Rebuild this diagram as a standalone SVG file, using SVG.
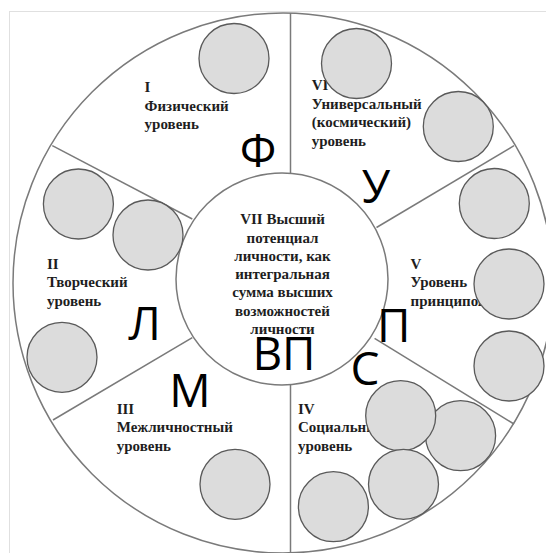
<svg xmlns="http://www.w3.org/2000/svg" width="546" height="553" viewBox="0 0 546 553">
  <style>
    .ring { fill: #ffffff; stroke: #7a7a7a; stroke-width: 1.5; }
    .div { stroke: #7a7a7a; stroke-width: 1.5; fill: none; }
    .ball { fill: #dcdcdc; stroke: #5a5a5a; stroke-width: 1.3; }
    .lbl { font-family: "Liberation Serif", "Times New Roman", serif; font-weight: bold; font-size: 15px; fill: #1e1e1e; }
    .mid { text-anchor: middle; }
    .big { font-family: "Open Sans", "Liberation Sans", sans-serif; font-size: 46px; fill: #000000; text-anchor: middle; }
  </style>
  <rect x="0" y="0" width="546" height="553" fill="#ffffff"/>
  <rect x="9.5" y="11.5" width="600" height="600" fill="none" stroke="#e0e0e0" stroke-width="1"/>

  <g id="outer-ring">
    <circle class="ring" cx="283" cy="283" r="270"/>
  </g>

  <g id="connectors">
    <line class="div" x1="290.5" y1="13" x2="290.5" y2="173.5"/>
    <line class="div" x1="290.5" y1="385" x2="290.5" y2="553"/>
    <line class="div" x1="52.3" y1="145.7" x2="192.3" y2="219"/>
    <line class="div" x1="514" y1="145.7" x2="376.5" y2="227.5"/>
    <line class="div" x1="53" y1="420" x2="192.3" y2="337.7"/>
    <line class="div" x1="374.6" y1="338.3" x2="514" y2="424"/>
  </g>

  <g id="core">
    <circle class="ring" cx="282" cy="279" r="106"/>
    <text class="lbl mid" x="282.5" y="224.3">VII Высший</text>
    <text class="lbl mid" x="282.5" y="242.5">потенциал</text>
    <text class="lbl mid" x="282.5" y="260.8">личности, как</text>
    <text class="lbl mid" x="282.5" y="279">интегральная</text>
    <text class="lbl mid" x="282.5" y="297.3">сумма высших</text>
    <text class="lbl mid" x="282.5" y="315.5">возможностей</text>
    <text class="lbl mid" x="282.5" y="333.8">личности</text>
  </g>

  <g id="level-I">
    <text class="lbl" x="144.6" y="92">I</text>
    <text class="lbl" x="144.6" y="110.5">Физический</text>
    <text class="lbl" x="144.6" y="129">уровень</text>
    <circle class="ball" cx="234" cy="58.5" r="35"/>
  </g>

  <g id="level-VI">
    <text class="lbl" x="311.7" y="90">VI</text>
    <text class="lbl" x="311.7" y="108.5">Универсальный</text>
    <text class="lbl" x="311.7" y="127">(космический)</text>
    <text class="lbl" x="311.7" y="145.5">уровень</text>
    <circle class="ball" cx="356.5" cy="63.5" r="35"/>
    <circle class="ball" cx="458.3" cy="126.5" r="35"/>
  </g>

  <g id="level-V">
    <text class="lbl" x="410.5" y="268.5">V</text>
    <text class="lbl" x="410.5" y="287">Уровень</text>
    <text class="lbl" x="410.5" y="305.5">принципов</text>
    <circle class="ball" cx="494.3" cy="203.5" r="35"/>
    <circle class="ball" cx="509" cy="284" r="35"/>
    <circle class="ball" cx="509" cy="366" r="35"/>
  </g>

  <g id="level-IV">
    <text class="lbl" x="298" y="413.5">IV</text>
    <text class="lbl" x="298" y="432">Социальный</text>
    <text class="lbl" x="298" y="450.5">уровень</text>
    <circle class="ball" cx="460.6" cy="435.7" r="35"/>
    <circle class="ball" cx="400.7" cy="415.7" r="35"/>
    <circle class="ball" cx="403.5" cy="484.3" r="35"/>
    <circle class="ball" cx="333.4" cy="506.7" r="35"/>
  </g>

  <g id="level-III">
    <text class="lbl" x="116.7" y="413.5">III</text>
    <text class="lbl" x="116.7" y="432">Межличностный</text>
    <text class="lbl" x="116.7" y="450.5">уровень</text>
    <circle class="ball" cx="235" cy="484.3" r="35"/>
  </g>

  <g id="level-II">
    <text class="lbl" x="47" y="268.5">II</text>
    <text class="lbl" x="47" y="287">Творческий</text>
    <text class="lbl" x="47" y="305.5">уровень</text>
    <circle class="ball" cx="78.4" cy="204" r="35"/>
    <circle class="ball" cx="148" cy="235" r="35"/>
    <circle class="ball" cx="62" cy="357.3" r="35"/>
  </g>

  <g id="letters">
    <text class="big" x="258" y="166.7">Ф</text>
    <text class="big" x="376" y="203">У</text>
    <text class="big" x="144.6" y="340">Л</text>
    <text class="big" x="284" y="370">ВП</text>
    <text class="big" x="393.7" y="341.7">П</text>
    <text class="big" x="365" y="384.5">С</text>
    <text class="big" x="190" y="406.7">М</text>
  </g>
</svg>
